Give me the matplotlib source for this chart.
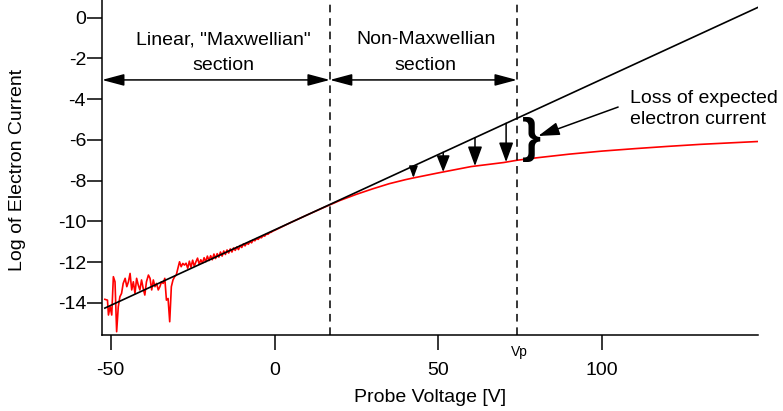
import numpy as np
import matplotlib
matplotlib.use('Agg')
import matplotlib.pyplot as plt

plt.rcParams['font.family'] = ['Liberation Sans', 'DejaVu Sans']
plt.rcParams['axes.unicode_minus'] = False

# measured electron current (log), noisy at low bias, bending over past the knee
probe_v = [-51.8, -51.0, -50.7, -50.2, -49.7, -49.2, -48.7, -48.2, -47.7, -47.2,
           -46.7, -46.2, -45.6, -45.1, -44.6, -44.1, -43.6, -43.1, -42.6, -42.1,
           -41.6, -41.1, -40.6, -40.1, -39.6, -39.1, -38.5, -38.0, -37.5, -37.0,
           -36.5, -36.0, -35.5, -35.0, -34.5, -34.0, -33.5, -33.0, -32.5, -32.0,
           -31.5, -31.0, -30.5, -30.0, -29.5, -29.0, -28.5, -28.0, -27.5, -27.0,
           -26.5, -26.0, -25.5, -25.0, -24.5, -24.0, -23.5, -23.0, -22.5, -22.0,
           -21.5, -21.0, -20.5, -20.0, -19.5, -19.0, -18.5, -18.0, -17.5, -17.0,
           -16.5, -16.0, -15.5, -15.0, -14.5, -14.0, -13.5, -13.0, -12.5, -12.0,
           -11.5, -11.0, -10.5, -10.0, -9.5, -9.0, -8.5, -8.0, -7.5, -7.0,
           -6.5, -6.0, -5.5, -5.0, -4.5, -4.0, -3.5, -3.0, -2.5, -2.0,
           -1.5, -1.0, -0.5, 0.0,
           5, 10, 15, 17, 20, 25, 30, 35, 40, 42, 50, 60, 70, 74, 80, 90, 100,
           110, 120, 130, 140, 147.6]
log_current = [-13.82, -13.86, -14.59, -14.18, -14.59, -12.71, -12.96, -15.41, -14.18, -13.69,
               -13.53, -13.04, -12.79, -13.20, -12.96, -12.55, -13.36, -12.96, -13.53, -12.79,
               -13.12, -13.36, -12.87, -13.28, -13.61, -12.96, -12.63, -12.79, -13.36, -12.87,
               -13.20, -13.04, -13.36, -13.20, -12.96, -13.04, -12.79, -13.86, -13.78, -14.92,
               -13.20, -12.87, -12.71, -12.63, -12.30, -11.98, -12.22, -12.06, -12.14, -12.05,
               -12.30, -11.95, -12.25, -11.90, -12.20, -11.98, -11.80, -12.10, -11.88, -12.05,
               -11.78, -11.98, -11.70, -11.92, -11.68, -11.88, -11.60, -11.82, -11.58, -11.75,
               -11.50, -11.70, -11.45, -11.62, -11.40, -11.55, -11.35, -11.50, -11.30, -11.42,
               -11.25, -11.38, -11.18, -11.28, -11.10, -11.20, -11.05, -11.12, -10.98, -11.05,
               -10.90, -10.95, -10.84, -10.88, -10.78, -10.80, -10.70, -10.72, -10.62, -10.63,
               -10.55, -10.53, -10.47, -10.44,
               -10.05, -9.68, -9.32, -9.18, -8.97, -8.67, -8.40, -8.15, -7.95, -7.88, -7.62, -7.31, -7.11,
               -7.00, -6.88, -6.70, -6.55, -6.43, -6.32, -6.22, -6.14, -6.08]

# straight Maxwellian fit
fit_v = [-51.8, 147.6]
fit_log = [-14.25, 0.5]

knee_v = 16.9
vp = 74.0
arrow_v = [42.4, 51.5, 61.2, 70.7]
arrow_head = [(7, 2.6), (10, 4.0), (12, 4.4), (12, 4.4)]  # (length, half width) in pt

fig = plt.figure(figsize=(7.83, 4.11), dpi=100)
ax = fig.add_axes([102/783, 76/411, 656/783, 335/411])

ax.plot(probe_v, log_current, color='#ff0000', lw=1.2)
ax.plot(fit_v, fit_log, color='black', lw=1.2)

for xv in [knee_v, vp]:
    ax.axvline(xv, color='black', lw=1.1, dashes=(5, 3.8))

# loss arrows from the fit down to the measured curve
tops = np.interp(arrow_v, fit_v, fit_log)
bots = np.interp(arrow_v, probe_v, log_current)
for xv, t, b, (hl, hw) in zip(arrow_v, tops, bots, arrow_head):
    ax.annotate('', xy=(xv, b), xytext=(xv, t),
                arrowprops=dict(arrowstyle='-|>,head_length=%.2f,head_width=%.2f' % (hl/10, hw/10),
                                mutation_scale=10, lw=1.1, color='black',
                                shrinkA=0, shrinkB=0))

# section span arrows
span_y = -3.06
xmin = -52.67
for x0, x1 in [(xmin, knee_v), (knee_v, vp)]:
    ax.annotate('', xy=(x1, span_y), xytext=(x0, span_y),
                arrowprops=dict(arrowstyle='<|-|>,head_length=1.35,head_width=0.36',
                                mutation_scale=10, lw=1.1, color='black',
                                shrinkA=0, shrinkB=0))

ax.text(-15.7, -1.30, 'Linear, "Maxwellian"', fontsize=14, ha='center', va='baseline')
ax.text(-15.7, -2.58, 'section', fontsize=14, ha='center', va='baseline')
ax.text(46.2, -1.30, 'Non-Maxwellian', fontsize=14, ha='center', va='baseline')
ax.text(46.2, -2.58, 'section', fontsize=14, ha='center', va='baseline')

ax.text(75.4, -5.97, '}', fontsize=35, fontweight='bold', ha='left', va='center')
ax.annotate('', xy=(80.5, -5.81), xytext=(104.9, -4.39),
            arrowprops=dict(arrowstyle='-|>,head_length=1.3,head_width=0.4',
                            mutation_scale=10, lw=1.1, color='black',
                            shrinkA=0, shrinkB=0))
ax.text(108.5, -4.21, 'Loss of expected', fontsize=14, ha='left', va='baseline')
ax.text(108.5, -5.24, 'electron current', fontsize=14, ha='left', va='baseline')

ax.text(vp + 0.8, -16.4, 'Vp', fontsize=10, ha='center', va='center', clip_on=False)

ax.set_xlim(xmin, 147.6)
ax.set_ylim(-15.57, 0.86)
ax.set_xticks([-50, 0, 50, 100])
ax.set_yticks(np.arange(0, -15, -2))
ax.tick_params(direction='out', length=10.5, width=1.1, labelsize=14)
ax.tick_params(axis='x', pad=9)
ax.tick_params(axis='y', pad=1)
for s in ['top', 'right']:
    ax.spines[s].set_visible(False)
for s in ['left', 'bottom']:
    ax.spines[s].set_linewidth(1.1)

fig.text(430/783, 1 - 397/411, 'Probe Voltage [V]', fontsize=14, ha='center', va='center')
fig.text(18/783, 1 - 170/411, 'Log of Electron Current', fontsize=14, ha='center', va='center',
         rotation=90)

fig.savefig('out.png', dpi=100)
